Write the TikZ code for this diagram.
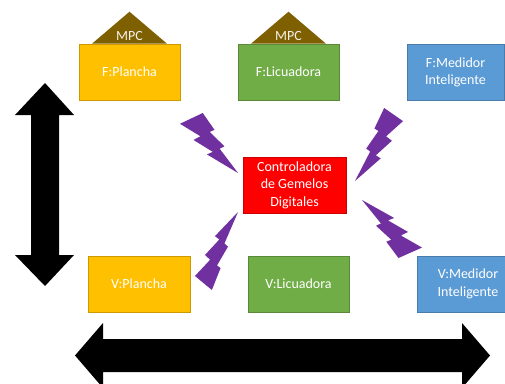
\documentclass[tikz,border=0pt]{standalone}
\usepackage{fontspec}
\setmainfont{Carlito}
\definecolor{plancha}{HTML}{FFC000}
\definecolor{licua}{HTML}{70AD47}
\definecolor{medidor}{HTML}{5B9BD5}
\definecolor{ctrl}{HTML}{FF0000}
\definecolor{mpcbrown}{HTML}{7F6000}
\definecolor{rayo}{HTML}{7030A0}
\tikzset{
  caja/.style={draw=#1!80!black, fill=#1, line width=0.6pt, minimum width=101pt,
    minimum height=56pt, text=white, align=center, inner sep=2pt,
    font=\fontsize{14}{17.5}\selectfont},
  mpctxt/.style={text=white!92!mpcbrown, font=\fontsize{14}{16}\selectfont, inner sep=0pt},
  bolt/.pic={
    \fill[rayo] (0.392,0) -- (0.595,0.281) -- (0.512,0.315) -- (0.767,0.556)
      -- (0.684,0.596) -- (1,1) -- (0.464,0.690) -- (0.566,0.648)
      -- (0.232,0.449) -- (0.352,0.388) -- (0,0.180) -- cycle;
  }
}

\begin{document}
\begin{tikzpicture}[x=1pt,y=-1pt]
  \useasboundingbox (0,0) rectangle (505,383);

  % gemelos fisicos
  \node[caja=plancha] (fplancha) at (129.5,72) {F:Plancha};
  \node[caja=licua] (flicua) at (288.5,72) {F:Licuadora};
  \node[caja=medidor, minimum width=97pt] (fmedidor) at (455.5,72.5) {F:Medidor\\Inteligente};

  % MPC
  \fill[mpcbrown] ([xshift=-37.5pt]fplancha.north) -- ([xshift=37.5pt]fplancha.north)
    -- ([yshift=32pt]fplancha.north) -- cycle;
  \node[mpctxt] (mpcplancha) at (129.5,36) {MPC};
  \fill[mpcbrown] ([xshift=-37.5pt]flicua.north) -- ([xshift=37.5pt]flicua.north)
    -- ([yshift=32pt]flicua.north) -- cycle;
  \node[mpctxt] (mpclicua) at (288.5,36) {MPC};

  \node[caja=ctrl, minimum width=103pt] (ctrl) at (294.5,185) {Controladora\\de Gemelos\\Digitales};

  % gemelos virtuales
  \node[caja=plancha, minimum width=102pt] (vplancha) at (139,284) {V:Plancha};
  \node[caja=licua] (vlicua) at (298.5,284) {V:Licuadora};
  \node[caja=medidor] (vmedidor) at (468,284) {V:Medidor\\Inteligente};

  % rayos
  \path (180,113) pic[xscale=58, yscale=60] {bolt};
  \path (403,108) pic[xscale=-48, yscale=73] {bolt};
  \path (422,258) pic[xscale=-60, yscale=-58] {bolt};
  \path (195,290) pic[xscale=43, yscale=-78] {bolt};

  % flechas
  \fill (45,83) -- (74,115) -- (59,115) -- (59,255) -- (74,255) -- (45,286)
    -- (15,255) -- (31,255) -- (31,115) -- (15,115) -- cycle;
  \fill (75,355.5) -- (103,323) -- (103,339) -- (462,339) -- (462,323) -- (490,355.5)
    -- (462,388) -- (462,372) -- (103,372) -- (103,388) -- cycle;
\end{tikzpicture}
\end{document}
